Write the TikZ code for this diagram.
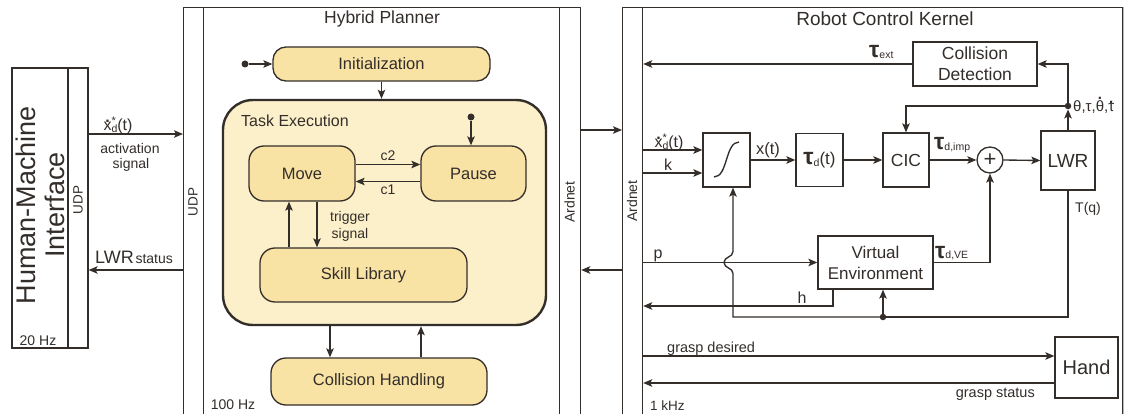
\documentclass[tikz,border=0pt]{standalone}
\usepackage{fontspec}
\setmainfont{Liberation Sans}
\usetikzlibrary{arrows.meta,calc}
\definecolor{ink}{HTML}{342E2B}
\definecolor{boxfill}{HTML}{F8E2A4}
\definecolor{taskfill}{HTML}{FCF0CA}
\definecolor{faint}{HTML}{B8B8B8}
\newcommand\fsz[1]{\fontsize{#1}{#1}\selectfont}
\newcommand\dotover[2][0.55em]{\ooalign{#2\cr\hidewidth\raisebox{#1}{\bfseries.}\hidewidth\cr}}
\newcommand\lo[1]{\raisebox{-0.1em}{\fsz{10.5}#1}}
\newcommand\bigtau{{\fsz{23}\bfseries τ}}
\newcommand\xdstar{\dotover{x}\rlap{\raisebox{0.42em}{\fsz{11}*}}\lo{d}(t)}
\begin{document}
\begin{tikzpicture}[x=1pt,y=-1pt,
  line/.style={draw=ink,line width=1.35pt},
  arr/.style={line,-{Stealth[length=9pt,width=7.5pt,inset=2pt]}},
  frame/.style={draw=ink,line width=1.2pt,inner sep=0pt},
  state/.style={draw=ink,line width=1.3pt,fill=boxfill,inner sep=0pt,rounded corners=14pt,font=\fsz{16.5}},
  blk/.style={draw=ink,line width=1.3pt,fill=white,inner sep=0pt,align=center,font=\fontsize{17.5}{21}\selectfont},
  lbl/.style={inner sep=0pt,font=\fsz{14}},
  dot/.style={circle,fill=ink,inner sep=0pt,minimum size=6.5pt},
  every node/.append style={text=ink}]
\fill[white] (0,0) rectangle (1124,414);
\useasboundingbox (0,0) rectangle (1124,414);

% ---------- Human-Machine Interface ----------
\node[frame,minimum width=56pt,minimum height=280pt] (hmi) at (40,208) {};
\node[frame,minimum width=20pt,minimum height=280pt] (hmiudp) at (78,208) {};
\node[rotate=90,align=center,inner sep=0pt,font=\fontsize{27}{29}\selectfont] (hmititle) at (40,205) {Human-Machine\\Interface};
\node[rotate=90,inner sep=0pt,font=\fsz{13.5}] (hmiudptxt) at (78,200) {UDP};
\node[lbl,anchor=base] (hmirate) at (38,345) {20 Hz};

% ---------- Hybrid Planner frame ----------
\node[frame,anchor=north west,minimum width=397pt,minimum height=412pt] (planner) at (183,7) {};
\node[frame,anchor=north west,minimum width=20pt,minimum height=412pt] (pudp) at (183,7) {};
\node[frame,anchor=north west,minimum width=21pt,minimum height=412pt] (pard) at (559,7) {};
\node[rotate=90,inner sep=0pt,font=\fsz{13.5}] (pudptxt) at (193,202) {UDP};
\node[rotate=90,inner sep=0pt,font=\fsz{14}] (pardtxt) at (569.5,202) {Ardnet};
\node[anchor=base,inner sep=0pt,font=\fsz{17.5}] (ptitle) at (382,24) {Hybrid Planner};
\node[lbl,anchor=base] (prate) at (233,409) {100 Hz};

% ---------- Robot Control Kernel frame ----------
\node[frame,anchor=north west,minimum width=500pt,minimum height=412pt] (kernel) at (622,7) {};
\node[frame,anchor=north west,minimum width=20pt,minimum height=412pt] (kard) at (622,7) {};
\draw[faint,line width=1.4pt] (kernel.north east) -- (kernel.south east);
\node[rotate=90,inner sep=0pt,font=\fsz{14}] (kardtxt) at (632,201) {Ardnet};
\node[anchor=base,inner sep=0pt,font=\fsz{19}] (ktitle) at (885,26) {Robot Control Kernel};
\node[lbl,anchor=base west,font=\fsz{13.5}] (krate) at (650,410) {1 kHz};

% ---------- links between the three parts ----------
\coordinate (yA) at (0,134);
\coordinate (yB) at (0,270);
\coordinate (yC) at (0,130);
\draw[arr] (hmiudp.east |- yA) -- (pudp.west |- yA);
\draw[arr] (pudp.west |- yB) -- (hmiudp.east |- yB);
\draw[arr] (pard.east |- yC) -- (kard.west |- yC);
\draw[arr] (kard.west |- yB) -- (pard.east |- yB);
\node[anchor=base,inner sep=0pt,font=\fsz{16}] (xdin) at (118,131) {\xdstar};
\node[lbl,anchor=base] (act1) at (130,154) {activation};
\node[lbl,anchor=base] (act2) at (131,169) {signal};
\node[anchor=base west,inner sep=0pt] (lwrst) at (95,263) {{\fsz{18}LWR}\,{\fsz{14}status}};

% ---------- planner states ----------
\node[state,minimum width=217pt,minimum height=34pt,rounded corners=13pt] (init) at (381.5,64) {Initialization};
\node[dot,minimum size=7pt] (init0) at (245,64) {};
\draw[arr] (init0) -- (init.west);

\node[draw=ink,line width=2.4pt,fill=taskfill,rounded corners=30pt,minimum width=323pt,minimum height=225pt,inner sep=0pt] (task) at (384.5,212.5) {};
\node[anchor=base west,inner sep=0pt,font=\fsz{16}] (tasktxt) at (241,127) {Task Execution};
\draw[arr] (init.south) -- (init.south |- task.north);

\node[state,minimum width=106pt,minimum height=55pt,rounded corners=15pt] (move) at (302,173.5) {Move};
\node[state,minimum width=105pt,minimum height=55pt,rounded corners=15pt] (pause) at (473.5,173.5) {Pause};
\node[dot,minimum size=7pt] (pause0) at (471,117) {};
\draw[arr] (pause0) -- (pause0 |- pause.north);
\draw[arr] ($(move.east)+(0,-9)$) -- ($(pause.west)+(0,-9)$);
\draw[arr] ($(pause.west)+(0,8)$) -- ($(move.east)+(0,8)$);
\node[lbl,anchor=base] (c2) at (388,161) {c2};
\node[lbl,anchor=base] (c1) at (388,195) {c1};

\node[state,minimum width=207pt,minimum height=54pt,rounded corners=15pt] (skill) at (363.5,275) {Skill Library};
\coordinate (xup) at (289,0);
\coordinate (xdn) at (317,0);
\draw[arr] (skill.north -| xup) -- (move.south -| xup);
\draw[arr] (move.south -| xdn) -- (skill.north -| xdn);
\node[lbl,anchor=base] (trg1) at (350,222) {trigger};
\node[lbl,anchor=base] (trg2) at (350,238) {signal};

\node[state,minimum width=216pt,minimum height=47pt,rounded corners=15pt] (coll) at (379,381.5) {Collision Handling};
\coordinate (xch1) at (330,0);
\coordinate (xch2) at (421,0);
\draw[arr] (task.south -| xch1) -- (coll.north -| xch1);
\draw[arr] (coll.north -| xch2) -- (task.south -| xch2);

% ---------- kernel blocks ----------
\node[blk,minimum width=124pt,minimum height=44pt] (cd) at (975,64) {Collision\\Detection};
\node[blk,minimum width=47pt,minimum height=54pt] (sig) at (726.5,160) {};
\draw[line] (714,177) .. controls (728,177) and (725,142) .. (739,142);
\node[blk,minimum width=47pt,minimum height=53pt,font=\fsz{17}] (taud) at (819.5,160) {\bigtau\lo{d}(t)};
\node[blk,minimum width=46pt,minimum height=54pt] (cic) at (906,160) {CIC};
\node[draw=ink,line width=1.3pt,fill=white,circle,minimum size=26pt,inner sep=0pt,font=\fsz{22}] (sum) at (990,160) {+};
\node[blk,minimum width=54pt,minimum height=59pt,font=\fsz{19}] (lwr) at (1068,160.5) {LWR};
\node[blk,minimum width=115pt,minimum height=53pt,font=\fontsize{17}{21}\selectfont] (ve) at (875.5,262.5) {Virtual\\Environment};
\node[blk,minimum width=63pt,minimum height=61pt,font=\fsz{20}] (hand) at (1086.5,367.5) {Hand};

% inputs from the Ardnet side
\coordinate (yx) at (0,150);
\coordinate (yk) at (0,173);
\draw[arr] (kard.east |- yx) -- (sig.west |- yx);
\draw[arr] (kard.east |- yk) -- (sig.west |- yk);
\node[anchor=base,inner sep=0pt,font=\fsz{16}] (xdk) at (669,148) {\xdstar};
\node[anchor=base,inner sep=0pt,font=\fsz{16}] (klbl) at (668,171) {k};

% forward chain
\draw[arr] (sig.east) -- (taud.west);
\node[anchor=base,inner sep=0pt,font=\fsz{16.5}] (xt) at (768,155) {x(t)};
\draw[arr] (taud.east) -- (cic.west);
\draw[arr] (cic.east) -- (sum.west);
\node[anchor=base west,inner sep=0pt] (tdimp) at (934,150) {\bigtau\lo{d,imp}};
\draw[arr] (sum.east) -- (lwr.west);

% measured state feedback
\node[dot] (fb) at (1068,106) {};
\draw[arr] (lwr.north) -- (fb.south);
\draw[arr] (fb.center) |- (cd.east);
\draw[arr] (fb.center) -| (cic.north);
\node[anchor=west,inner sep=0pt,font=\fsz{15}] (state) at (1073,107) {θ,τ,\dotover[0.78em]{θ},\dotover{τ}};
\draw[arr] (cd.west) -- (kard.east |- cd.west);
\node[anchor=base west,inner sep=0pt] (text) at (869,58) {\bigtau\lo{ext}};

% virtual environment
\draw[arr] (kard.east |- ve.west) -- (ve.west);
\node[anchor=base,inner sep=0pt,font=\fsz{16}] (plbl) at (658,258) {p};
\draw[arr] (ve.east) -| (sum.south);
\node[anchor=base west,inner sep=0pt] (tdve) at (935,258) {\bigtau\lo{d,VE}};
\coordinate (hx) at (833,0);
\coordinate (hy) at (0,306);
\draw[arr] (ve.south -| hx) |- (kard.east |- hy);
\node[anchor=base,inner sep=0pt,font=\fsz{16}] (hlbl) at (802,303) {h};

% T(q) loop back to the trajectory generator, hopping over p
\node[dot] (vdot) at (883,317) {};
\draw[line] (lwr.south) |- (vdot.center);
\node[anchor=base west,inner sep=0pt,font=\fsz{14}] (tq) at (1075,213) {T(q)};
\draw[arr] (vdot.center) -- (vdot.center |- ve.south);
\coordinate (cross) at ($(sig.south |- ve.west)+(6.5,0)$);
\draw[arr] (vdot.center) -- (cross |- vdot.center) -- ($(cross)+(0,11)$)
  .. controls ($(cross)+(0,5)$) and ($(cross)+(-9,6)$) .. ($(cross)+(-9,0)$)
  .. controls ($(cross)+(-9,-6)$) and ($(cross)+(0,-5)$) .. ($(cross)+(0,-11)$)
  -- (cross |- sig.south);

% gripper
\coordinate (yg1) at (0,356);
\coordinate (yg2) at (0,383);
\draw[arr] (kard.east |- yg1) -- (hand.west |- yg1);
\draw[arr] (hand.west |- yg2) -- (kard.east |- yg2);
\node[lbl,anchor=base west,font=\fsz{14.5}] (gd) at (667,352) {grasp desired};
\node[lbl,anchor=base east,font=\fsz{14.5}] (gs) at (1035,397) {grasp status};
\end{tikzpicture}
\end{document}
